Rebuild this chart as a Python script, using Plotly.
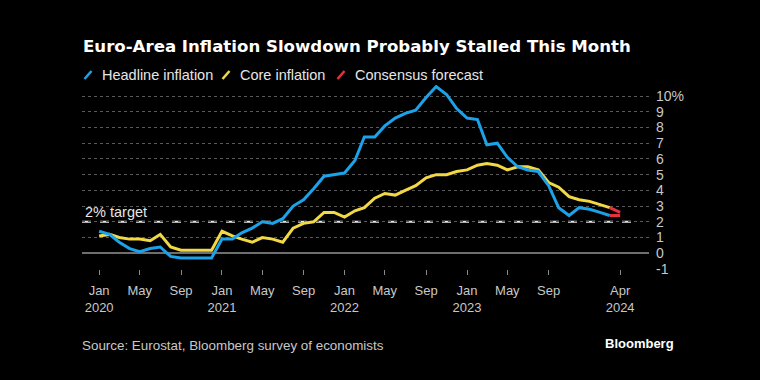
import plotly.graph_objects as go
import pandas as pd

# ---- data ----
months = pd.date_range("2020-01-01", "2024-03-01", freq="MS").strftime("%Y-%m-%d").tolist()
headline = [1.4, 1.2, 0.7, 0.3, 0.1, 0.3, 0.4, -0.2, -0.3, -0.3, -0.3, -0.3,
            0.9, 0.9, 1.3, 1.6, 2.0, 1.9, 2.2, 3.0, 3.4, 4.1, 4.9, 5.0,
            5.1, 5.9, 7.4, 7.4, 8.1, 8.6, 8.9, 9.1, 9.9, 10.6, 10.1, 9.2,
            8.6, 8.5, 6.9, 7.0, 6.1, 5.5, 5.3, 5.2, 4.3, 2.9, 2.4, 2.9,
            2.8, 2.6, 2.4]
core = [1.1, 1.2, 1.0, 0.9, 0.9, 0.8, 1.2, 0.4, 0.2, 0.2, 0.2, 0.2,
        1.4, 1.1, 0.9, 0.7, 1.0, 0.9, 0.7, 1.6, 1.9, 2.0, 2.6, 2.6,
        2.3, 2.7, 2.9, 3.5, 3.8, 3.7, 4.0, 4.3, 4.8, 5.0, 5.0, 5.2,
        5.3, 5.6, 5.7, 5.6, 5.3, 5.5, 5.5, 5.3, 4.5, 4.2, 3.6, 3.4,
        3.3, 3.1, 2.9]
forecast_months = ["2024-03-01", "2024-04-01"]
headline_forecast = [2.4, 2.4]
core_forecast = [2.9, 2.6]
target = 2

x_tickvals = ["2020-01-01", "2020-05-01", "2020-09-01", "2021-01-01", "2021-05-01", "2021-09-01",
              "2022-01-01", "2022-05-01", "2022-09-01", "2023-01-01", "2023-05-01", "2023-09-01",
              "2024-04-01"]
x_ticktext = ["Jan<br>2020", "May", "Sep", "Jan<br>2021", "May", "Sep",
              "Jan<br>2022", "May", "Sep", "Jan<br>2023", "May", "Sep", "Apr<br>2024"]
y_tickvals = [-1, 0, 1, 2, 3, 4, 5, 6, 7, 8, 9, 10]
y_ticktext = ["-1", "0", "1", "2", "3", "4", "5", "6", "7", "8", "9", "10%"]

title = "Euro-Area Inflation Slowdown Probably Stalled This Month"
legend_items = ["Headline inflation", "Core inflation", "Consensus forecast"]
source = "Source: Eurostat, Bloomberg survey of economists"

# ---- style ----
BLUE = "#1ba2e8"
YELLOW = "#f2d844"
RED = "#e5323d"
W, H = 760, 380
L, R, T, B = 82, 649, 85, 268.7
FONT = "Liberation Sans"


def px2x(px):
    return (px - L) / (R - L)


def px2y(py):
    return (B - py) / (B - T)


fig = go.Figure()
fig.add_trace(go.Scatter(x=months, y=core, mode="lines", line=dict(color=YELLOW, width=3),
                         name=legend_items[1], showlegend=False))
fig.add_trace(go.Scatter(x=months, y=headline, mode="lines", line=dict(color=BLUE, width=3),
                         name=legend_items[0], showlegend=False))
fig.add_trace(go.Scatter(x=forecast_months, y=core_forecast, mode="lines", line=dict(color=RED, width=3),
                         name=legend_items[2], showlegend=False))
fig.add_trace(go.Scatter(x=forecast_months, y=headline_forecast, mode="lines", line=dict(color=RED, width=3),
                         name=legend_items[2], showlegend=False))

shapes = []
annotations = []

# 2% target line
shapes.append(dict(type="line", xref="paper", yref="y", x0=0, x1=px2x(635), y0=target, y1=target,
                   line=dict(color="#e6e6e6", width=2, dash="dash"), layer="below"))
annotations.append(dict(text="2% target", xref="paper", yref="y", x=px2x(83), y=target,
                        xanchor="left", yanchor="bottom", showarrow=False, yshift=0,
                        font=dict(family=FONT, size=14.5, color="#e6e6e6")))

# legend built from short slanted strokes + labels
leg_x = [88, 226, 341]
leg_colors = [BLUE, YELLOW, RED]
leg_y = 75
for lx, col, txt in zip(leg_x, leg_colors, legend_items):
    shapes.append(dict(type="line", xref="paper", yref="paper",
                       x0=px2x(lx - 3.5), x1=px2x(lx + 3.5), y0=px2y(leg_y + 4), y1=px2y(leg_y - 4),
                       line=dict(color=col, width=2.5)))
    annotations.append(dict(text=txt, xref="paper", yref="paper", x=px2x(lx + 12), y=px2y(leg_y),
                            xanchor="left", yanchor="middle", showarrow=False,
                            font=dict(family=FONT, size=14.5, color="#e6e6e6")))

annotations.append(dict(text=source, xref="paper", yref="paper", x=px2x(80), y=px2y(345),
                        xanchor="left", yanchor="middle", showarrow=False,
                        font=dict(family=FONT, size=13.4, color="#c8c8c8")))
annotations.append(dict(text="<b>Bloomberg</b>", xref="paper", yref="paper", x=px2x(676), y=px2y(343),
                        xanchor="right", yanchor="middle", showarrow=False,
                        font=dict(family=FONT, size=13, color="#ffffff")))

fig.update_layout(
    width=W, height=H,
    paper_bgcolor="#000000", plot_bgcolor="#000000",
    margin=dict(l=L, r=W - R, t=T, b=H - B, pad=0),
    showlegend=False,
    title=dict(text="<b>" + title + "</b>", xref="container", yref="container",
               x=83 / W, y=1 - 46 / H, xanchor="left", yanchor="middle",
               font=dict(family="DejaVu Sans", size=16.6, color="#ffffff")),
    shapes=shapes, annotations=annotations,
    xaxis=dict(type="date", range=["2019-11-11", "2024-06-26"], tickvals=x_tickvals, ticktext=x_ticktext,
               showgrid=False, zeroline=False, showline=False,
               ticks="outside", ticklen=5, tickcolor="#8a8a8a", tickwidth=1,
               ticklabelstandoff=4,
               tickfont=dict(family=FONT, size=13, color="#c8c8c8")),
    yaxis=dict(range=[-1, 10.7], side="right", tickvals=y_tickvals, ticktext=y_ticktext,
               showgrid=True, gridcolor="#5a5a5a", griddash="dot", gridwidth=1,
               zeroline=True, zerolinecolor="#6e6e6e", zerolinewidth=1.5,
               showline=False, ticks="", ticklabelstandoff=6,
               tickfont=dict(family=FONT, size=14, color="#c8c8c8")),
)

fig.write_html("out.html", config={"displayModeBar": False},
               post_script="document.body.style.margin='0';document.body.style.background='#000';")
